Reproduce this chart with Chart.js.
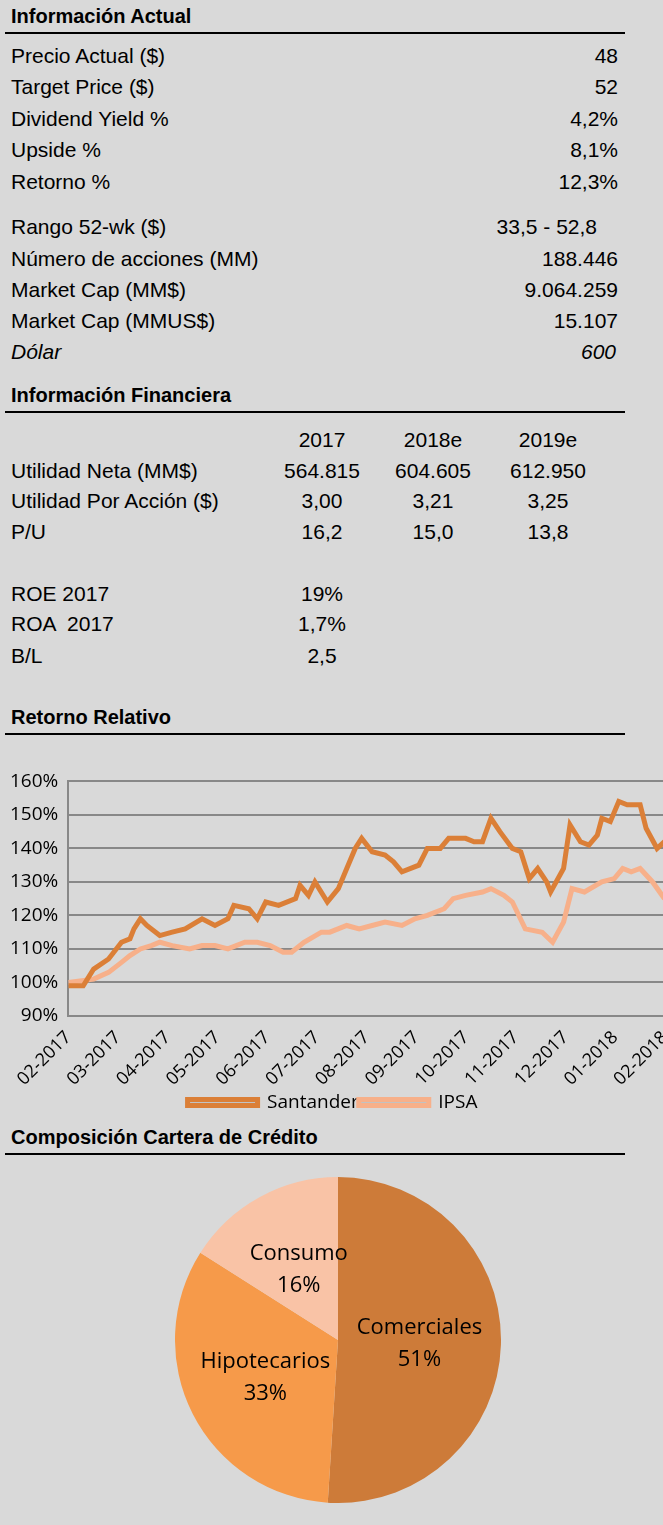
<!DOCTYPE html>
<html><head><meta charset="utf-8">
<script src="https://cdn.jsdelivr.net/npm/chart.js@4"></script>
<style>
body{margin:0;width:663px;height:1525px;background:#d9d9d9;overflow:hidden;position:relative;font-family:"Liberation Sans",Arial,sans-serif;color:#000}
.t{position:absolute;font-size:21px;line-height:24px;white-space:nowrap}
.h{position:absolute;font-size:20px;font-weight:bold;line-height:24px}
.rule{position:absolute;left:5px;width:620px;height:2px;background:#000}
#lineWrap{position:absolute;left:0;top:760px;width:705px;height:362px}
#pieWrap{position:absolute;left:175px;top:1177px;width:326px;height:326px}
</style></head><body>
<div id="txt"></div>
<div id="lineWrap"><canvas id="line"></canvas></div>
<div id="pieWrap"><canvas id="pie"></canvas></div>
<script>
// ---- data ----
const months = ['02-2017','03-2017','04-2017','05-2017','06-2017','07-2017','08-2017','09-2017','10-2017','11-2017','12-2017','01-2018','02-2018'];
const santX = [0,0.3,0.51,0.81,1.07,1.24,1.32,1.45,1.58,1.84,2.09,2.35,2.69,2.95,3.21,3.33,3.63,3.8,3.97,4.23,4.57,4.66,4.83,4.96,5.21,5.43,5.6,5.77,5.9,6.11,6.37,6.54,6.71,7.05,7.22,7.48,7.65,7.99,8.16,8.33,8.5,8.68,8.93,9.1,9.27,9.44,9.62,9.7,9.96,10.09,10.3,10.47,10.64,10.73,10.9,11.07,11.24,11.5,11.62,11.84,11.99];
const santY = [99,99,104,107,112,113,116,119,117,114,115,116,119,117,119,123,122,119,124,123,125,129,126,130,124,128,134,140,143,139,138,136,133,135,140,140,143,143,142,142,149,145,140,139,131,134,130,127,134,147,142,141,144,149,148,154,153,153,146,140,142];
const ipsaX = [0,0.51,0.81,1.07,1.24,1.45,1.67,1.84,2.09,2.44,2.69,2.95,3.21,3.55,3.8,4.06,4.32,4.49,4.74,5.09,5.26,5.6,5.85,6.11,6.37,6.71,6.97,7.22,7.56,7.74,7.99,8.33,8.5,8.76,8.93,9.19,9.53,9.74,9.96,10.13,10.38,10.73,10.98,11.15,11.32,11.5,11.75,11.99];
const ipsaY = [100,101,103,106,108,110,111,112,111,110,111,111,110,112,112,111,109,109,112,115,115,117,116,117,118,117,119,120,122,125,126,127,128,126,124,116,115,112,118,128,127,130,131,134,133,134,130,125];
const pieLabels = ['Comerciales','Hipotecarios','Consumo'];
const pieValues = [51,33,16];
const pieColors = ['#cd7b39','#f69a4a','#f9c3a6'];

// ---- tables ----
const T = document.getElementById('txt');
function add(cls, text, x, y, align, extra){
  const d = document.createElement('div'); d.className = cls; d.textContent = text;
  d.style.top = (y - 12) + 'px';
  if (align === 'r') d.style.right = (663 - x) + 'px';
  else if (align === 'c') { d.style.left = (x - 100) + 'px'; d.style.width = '200px'; d.style.textAlign = 'center'; }
  else d.style.left = x + 'px';
  if (extra) d.style.cssText += extra;
  T.appendChild(d);
}
function rule(y){ const d=document.createElement('div'); d.className='rule'; d.style.top=(y-1)+'px'; T.appendChild(d); }

add('h','Información Actual',11,16); rule(33);
[['Precio Actual ($)','48',56],['Target Price ($)','52',87],['Dividend Yield %','4,2%',119],['Upside %','8,1%',150],['Retorno %','12,3%',182],
 ['Número de acciones (MM)','188.446',259],['Market Cap (MM$)','9.064.259',290],['Market Cap (MMUS$)','15.107',321]]
 .forEach(r => { add('t',r[0],11,r[2]); add('t',r[1],618,r[2],'r'); });
add('t','Rango 52-wk ($)',11,227); add('t','33,5 - 52,8',597,227,'r');
add('t','Dólar',11,352,'l','font-style:italic'); add('t','600',616,352,'r','font-style:italic');

add('h','Información Financiera',11,395); rule(412);
const cols = [322,433,548];
['2017','2018e','2019e'].forEach((c,i)=>add('t',c,cols[i],440,'c'));
[['Utilidad Neta (MM$)',['564.815','604.605','612.950'],471],['Utilidad Por Acción ($)',['3,00','3,21','3,25'],501],['P/U',['16,2','15,0','13,8'],532],
 ['ROE 2017',['19%'],594],['ROA  2017',['1,7%'],624],['B/L',['2,5'],656]]
 .forEach(r => { add('t',r[0],11,r[2],'l','white-space:pre'); r[1].forEach((v,i)=>add('t',v,cols[i],r[2],'c')); });

add('h','Retorno Relativo',11,717); rule(734);
add('h','Composición Cartera de Crédito',11,1137); rule(1154);

// ---- line chart ----
const pts = (xs, ys) => xs.map((x,i) => ({x, y: ys[i]}));
new Chart(document.getElementById('line'), {
  type: 'line',
  data: { datasets: [
    { label: 'Santander', data: pts(santX, santY), borderColor: '#db7f37', borderWidth: 5, pointRadius: 0, tension: 0 },
    { label: 'IPSA', data: pts(ipsaX, ipsaY), borderColor: '#f7b08a', borderWidth: 5, pointRadius: 0, tension: 0 }
  ]},
  options: {
    responsive: true, maintainAspectRatio: false, animation: false,
    layout: { padding: { top: 8, right: 40 } },
    plugins: {
      legend: { position: 'bottom', labels: { boxWidth: 70, boxHeight: 6, color: '#000', font: { family: 'Open Sans', size: 19 }, padding: 0 } },
      tooltip: { enabled: false }
    },
    scales: {
      x: { type: 'linear', min: 0, max: 12,
        ticks: { stepSize: 1, maxRotation: 45, minRotation: 45, color: '#000', font: { family: 'Open Sans', size: 18 }, callback: v => months[v] },
        grid: { display: false }, border: { color: '#888', width: 2 } },
      y: { min: 90, max: 160,
        ticks: { stepSize: 10, color: '#000', padding: 10, font: { family: 'Open Sans', size: 19 }, callback: v => v + '%' },
        grid: { color: '#888', lineWidth: 2, drawTicks: false }, border: { color: '#888', width: 2 } }
    }
  }
});

// ---- pie chart ----
const sliceLabels = {
  id: 'sliceLabels',
  afterDatasetsDraw(chart) {
    const ctx = chart.ctx;
    chart.getDatasetMeta(0).data.forEach((arc, i) => {
      const mid = (arc.startAngle + arc.endAngle) / 2, r = arc.outerRadius * 0.5;
      const x = arc.x + Math.cos(mid) * r, y = arc.y + Math.sin(mid) * r;
      ctx.save(); ctx.fillStyle = '#000'; ctx.font = '22px "Open Sans"'; ctx.textAlign = 'center'; ctx.textBaseline = 'middle';
      ctx.fillText(pieLabels[i], x, y - 15); ctx.fillText(pieValues[i] + '%', x, y + 17);
      ctx.restore();
    });
  }
};
new Chart(document.getElementById('pie'), {
  type: 'pie',
  data: { labels: pieLabels, datasets: [{ data: pieValues, backgroundColor: pieColors, borderWidth: 0 }] },
  options: { responsive: true, maintainAspectRatio: false, animation: false,
    plugins: { legend: { display: false }, tooltip: { enabled: false } } },
  plugins: [sliceLabels]
});
</script>
</body></html>
